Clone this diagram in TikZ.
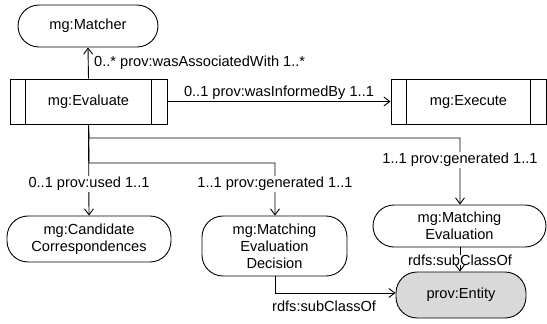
\documentclass[tikz,border=0pt]{standalone}
\usepackage{fontspec}
\setmainfont{Liberation Sans}
\usetikzlibrary{arrows.meta,calc}
\begin{document}
\begin{tikzpicture}[x=1pt,y=-1pt,
  every node/.style={font=\fontsize{14.6}{17}\selectfont},
  lw/.style={line width=0.9pt},
  stad/.style={draw,lw,rounded corners=21pt,inner sep=0pt,align=center,fill=white},
  proc/.style={draw,lw,inner sep=0pt,fill=white},
  conn/.style={lw,-{Straight Barb[length=6pt,width=9pt,line width=0.9pt]}},
  lbl/.style={fill=white,inner sep=1pt},
]
\useasboundingbox (0,0) rectangle (547,324);
% nodes
\node[stad,minimum width=140pt,minimum height=42pt] (matcher) at (88,26) {mg:Matcher};
\node[proc,minimum width=157pt,minimum height=45pt] (eval) at (88.5,101.5) {mg:Evaluate};
\node[proc,minimum width=155pt,minimum height=45pt] (exec) at (468.5,101.5) {mg:Execute};
\node[stad,minimum width=164pt,minimum height=46pt] (cand) at (89,239) {mg:Candidate\\Correspondences};
\node[stad,minimum width=145pt,minimum height=60pt] (dec) at (274.5,246) {mg:Matching\\Evaluation\\Decision};
\node[stad,minimum width=173pt,minimum height=42pt] (meval) at (459.5,226) {mg:Matching\\Evaluation};
\node[stad,minimum width=130pt,minimum height=46pt,fill=black!15] (ent) at (461,295) {prov:Entity};
% inner bars of process boxes
\draw[lw] ($(eval.north west)+(16,0)$) -- ($(eval.south west)+(16,0)$);
\draw[lw] ($(eval.north east)+(-16,0)$) -- ($(eval.south east)+(-16,0)$);
\draw[lw] ($(exec.north west)+(16,0)$) -- ($(exec.south west)+(16,0)$);
\draw[lw] ($(exec.north east)+(-16,0)$) -- ($(exec.south east)+(-16,0)$);
% connector coordinates
\coordinate (b1) at (89,138);
\coordinate (b1r) at (460,138);
\coordinate (b2) at (89,163);
\coordinate (b2r) at (275,163);
\coordinate (c7) at (275,293);
% connectors
\draw[conn] (eval.north) -- (matcher.south);
\node[anchor=west,inner sep=0pt] (l1) at (94,63) {0..* prov:wasAssociatedWith 1..*};
\draw[conn] (eval.east) -- node[above=1pt,inner sep=1pt] (l2) {0..1 prov:wasInformedBy 1..1} (exec.west);
\draw[conn] (eval.south) -- (b1) -- (b1r) -- (b1r |- meval.north);
\draw[conn] (eval.south) -- (b2) -- (b2r) -- (b2r |- dec.north);
\draw[conn] (eval.south) -- (cand.north);
\draw[conn] (meval.south -| 460,0) -- (ent.north -| 460,0);
\draw[conn] (dec.south -| c7) -- (c7) -- (ent.west |- c7);
\node[lbl] (l3) at (460,160) {1..1 prov:generated 1..1};
\node[lbl] (l4) at (275,184) {1..1 prov:generated 1..1};
\node[lbl] (l5) at (89,184) {0..1 prov:used 1..1};
\node[lbl,inner sep=0pt] (l6) at (460,260) {rdfs:subClassOf};
\node[anchor=west,inner sep=0pt] (l7) at (272,306) {rdfs:subClassOf};
\end{tikzpicture}
\end{document}
